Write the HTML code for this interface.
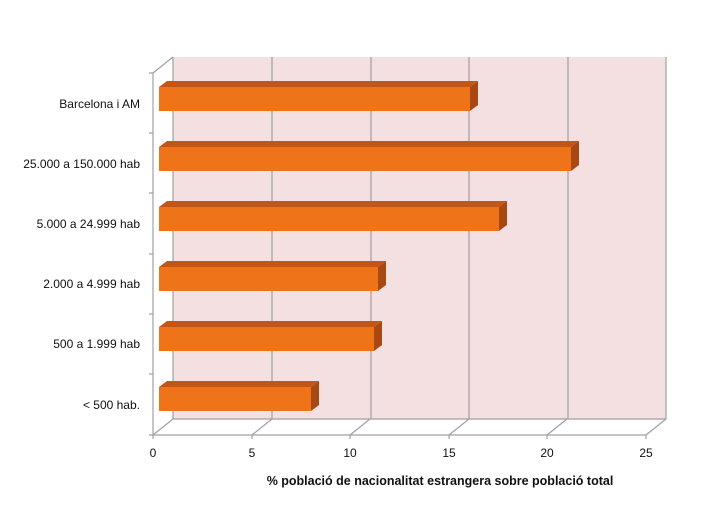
<!DOCTYPE html><html><head><style>body{margin:0;background:#fff}svg{display:block}text{font-family:"Liberation Sans",sans-serif;font-size:12px;fill:#111}</style></head><body>
<svg width="710" height="518" viewBox="0 0 710 518">
<rect x="173" y="57" width="493" height="362" fill="#f4dfe1"/>
<g stroke="#a0a0a0" stroke-width="1.2" fill="none">
<path d="M173 57V419M272 57V419M371 57V419M469 57V419M568 57V419M666 57V419"/>
<path d="M153 435L173 419M252 435L272 419M350 435L370 419M449 435L469 419M547 435L567 419M646 435L666 419"/>
<path d="M153 435H646M153 73V435M153 73L173 57M173 419H666"/>
<path d="M149 73H153M149 133H153M149 193H153M149 254H153M149 314H153M149 374H153M149 435H153"/>
<path d="M153 435v4M252 435v4M350 435v4M449 435v4M547 435v4M646 435v4"/>
</g>
<g>
<polygon points="159,87 167,81 478,81 470,87" fill="#c25618"/><polygon points="470,87 478,81 478,105 470,111" fill="#a84812"/><rect x="159" y="87" width="311" height="24" fill="#ef7419"/>
<polygon points="159,147 167,141 579,141 571,147" fill="#c25618"/><polygon points="571,147 579,141 579,165 571,171" fill="#a84812"/><rect x="159" y="147" width="412" height="24" fill="#ef7419"/>
<polygon points="159,207 167,201 507,201 499,207" fill="#c25618"/><polygon points="499,207 507,201 507,225 499,231" fill="#a84812"/><rect x="159" y="207" width="340" height="24" fill="#ef7419"/>
<polygon points="159,267 167,261 386,261 378,267" fill="#c25618"/><polygon points="378,267 386,261 386,285 378,291" fill="#a84812"/><rect x="159" y="267" width="219" height="24" fill="#ef7419"/>
<polygon points="159,327 167,321 382,321 374,327" fill="#c25618"/><polygon points="374,327 382,321 382,345 374,351" fill="#a84812"/><rect x="159" y="327" width="215" height="24" fill="#ef7419"/>
<polygon points="159,387 167,381 319,381 311,387" fill="#c25618"/><polygon points="311,387 319,381 319,405 311,411" fill="#a84812"/><rect x="159" y="387" width="152" height="24" fill="#ef7419"/>
</g>
<g text-anchor="end">
<text x="140" y="108">Barcelona i AM</text>
<text x="140" y="168">25.000 a 150.000 hab</text>
<text x="140" y="228">5.000 a 24.999 hab</text>
<text x="140" y="288">2.000 a 4.999 hab</text>
<text x="140" y="348">500 a 1.999 hab</text>
<text x="140" y="409">&lt; 500 hab.</text>
</g>
<g text-anchor="middle">
<text x="153" y="457">0</text><text x="252" y="457">5</text><text x="350" y="457">10</text><text x="449" y="457">15</text><text x="547" y="457">20</text><text x="646" y="457">25</text>
</g>
<text x="440" y="485" text-anchor="middle" style="font-weight:bold;font-size:12.5px">% població de nacionalitat estrangera sobre població total</text>
</svg></body></html>
